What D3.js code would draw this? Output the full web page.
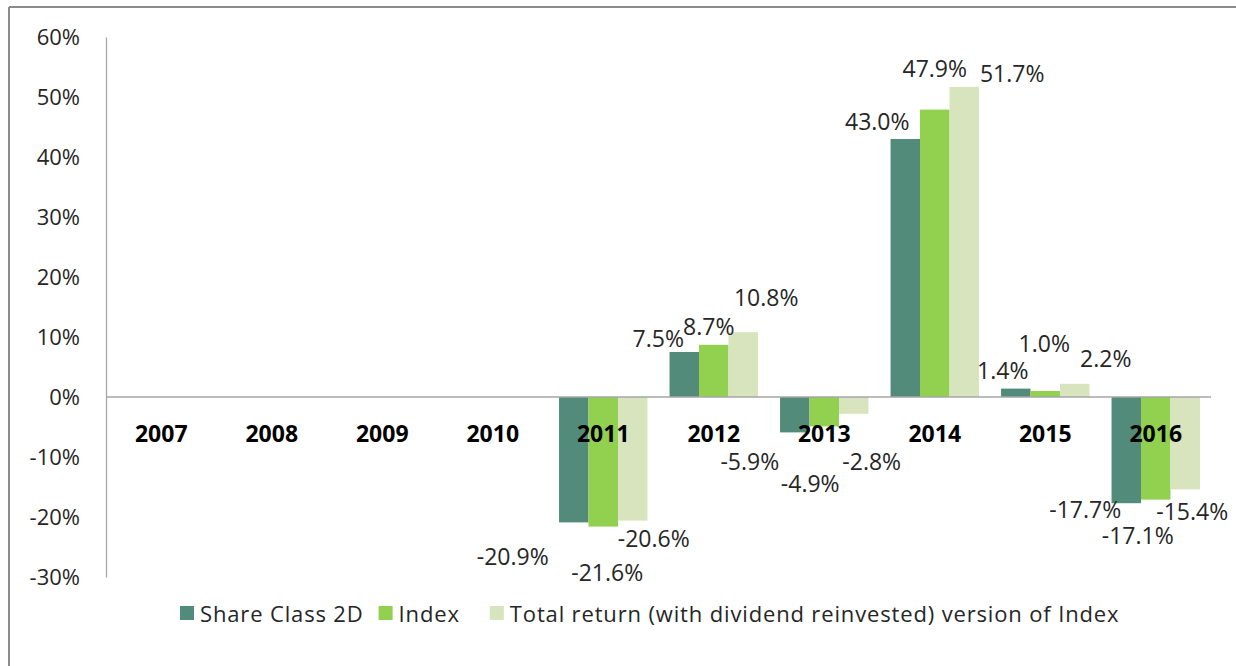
<!DOCTYPE html>
<html>
<head>
<meta charset="utf-8">
<script src="https://cdn.jsdelivr.net/npm/d3@7"></script>
<style>
  html, body { margin: 0; padding: 0; background: #fff; }
  svg { display: block; }
  text { font-family: "Open Sans", "Liberation Sans", sans-serif; }
</style>
</head>
<body>
<svg id="chart" width="1236" height="666"></svg>
<script>
// ---- data ----
const years = ["2007","2008","2009","2010","2011","2012","2013","2014","2015","2016"];
const shareClass2D = [null, null, null, null, -20.9, 7.5, -5.9, 43.0, 1.4, -17.7];
const indexValues  = [null, null, null, null, -21.6, 8.7, -4.9, 47.9, 1.0, -17.1];
const totalReturn  = [null, null, null, null, -20.6, 10.8, -2.8, 51.7, 2.2, -15.4];
const seriesNames = ["Share Class 2D", "Index", "Total return (with dividend reinvested) version of Index"];
const yTicks = [-30, -20, -10, 0, 10, 20, 30, 40, 50, 60];

// ---- presentation ----
const seriesColors = ["#538B7A", "#92D050", "#D7E4BD"];
// manual label nudges [dx, dy] per series per year (as placed in the original)
const labelNudge = [
  [null,null,null,null,[-61,34],[-26,-14],[-45,29],[-28,-18],[-13,-19],[-41,6]],
  [null,null,null,null,[4,45],[-5,-19],[-14,57],[0,-42],[-1,-48],[-18,35]],
  [null,null,null,null,[21,17],[23,-35],[18,47],[48,-14],[31,-26],[7,22]]
];

const svg = d3.select("#chart");
const W = 1236, H = 666;

// frame (left and top edge)
svg.append("line").attr("x1", 9).attr("x2", 9).attr("y1", 7).attr("y2", H)
  .attr("stroke", "#8c8c8c").attr("stroke-width", 2);
svg.append("line").attr("x1", 9).attr("x2", W).attr("y1", 7).attr("y2", 7)
  .attr("stroke", "#8c8c8c").attr("stroke-width", 2);

const plotLeft = 106, plotRight = 1211, plotTop = 37, plotBottom = 577;

const x = d3.scaleBand().domain(years).range([plotLeft, plotRight])
  .paddingInner(0.2).paddingOuter(0.1);
const y = d3.scaleLinear().domain([-30, 60]).range([plotBottom, plotTop]);
const xs = d3.scaleBand().domain([0,1,2]).range([0, x.bandwidth()]);

// y axis
const yAxis = d3.axisLeft(y).tickValues(yTicks).tickSize(0).tickPadding(26)
  .tickFormat(d => d + "%");
const gy = svg.append("g").attr("transform", `translate(${plotLeft},0)`).call(yAxis);
gy.select(".domain").attr("stroke", "#a6a6a6").attr("stroke-width", 1.3);
gy.selectAll("text").attr("font-size", 22).attr("fill", "#262626")
  .attr("font-family", "'Open Sans', sans-serif");

// bars
const allSeries = [shareClass2D, indexValues, totalReturn];
allSeries.forEach((vals, si) => {
  const data = years.map((yr, i) => ({ yr, v: vals[i], i })).filter(d => d.v !== null);
  svg.append("g").selectAll("rect").data(data).join("rect")
    .attr("x", d => x(d.yr) + xs(si))
    .attr("width", xs.bandwidth())
    .attr("y", d => y(Math.max(0, d.v)))
    .attr("height", d => Math.abs(y(d.v) - y(0)))
    .attr("fill", seriesColors[si]);
});

// zero line
svg.append("line").attr("x1", plotLeft).attr("x2", plotRight)
  .attr("y1", y(0)).attr("y2", y(0)).attr("stroke", "#a6a6a6").attr("stroke-width", 1.3);

// category labels
svg.append("g").selectAll("text").data(years).join("text")
  .attr("x", d => x(d) + x.bandwidth() / 2)
  .attr("y", y(0) + 36)
  .attr("text-anchor", "middle")
  .attr("dominant-baseline", "central")
  .attr("font-size", 23).attr("font-weight", "bold").attr("fill", "#000")
  .text(d => d);

// data labels
allSeries.forEach((vals, si) => {
  const data = years.map((yr, i) => ({ yr, v: vals[i], i })).filter(d => d.v !== null);
  svg.append("g").selectAll("text").data(data).join("text")
    .attr("x", d => x(d.yr) + xs(si) + xs.bandwidth() / 2 + labelNudge[si][d.i][0])
    .attr("y", d => y(d.v) + labelNudge[si][d.i][1])
    .attr("text-anchor", "middle")
    .attr("dominant-baseline", "central")
    .attr("font-size", 23).attr("fill", "#262626")
    .text(d => d.v.toFixed(1) + "%");
});

// legend
const legend = svg.append("g").attr("transform", "translate(180, 613)");
const sw = 14, gapText = 6, itemGaps = [15, 30];
let cx = 0;
seriesNames.forEach((name, i) => {
  const g = legend.append("g").attr("transform", `translate(${cx},0)`);
  g.append("rect").attr("x", 0).attr("y", -sw/2).attr("width", sw).attr("height", sw)
    .attr("fill", seriesColors[i]);
  const t = g.append("text").attr("x", sw + gapText).attr("y", 0)
    .attr("dominant-baseline", "central").attr("font-size", 22)
    .attr("letter-spacing", 0.85).attr("fill", "#262626")
    .text(name);
  cx += sw + gapText + t.node().getComputedTextLength() + (itemGaps[i] || 0);
});
</script>
</body>
</html>
